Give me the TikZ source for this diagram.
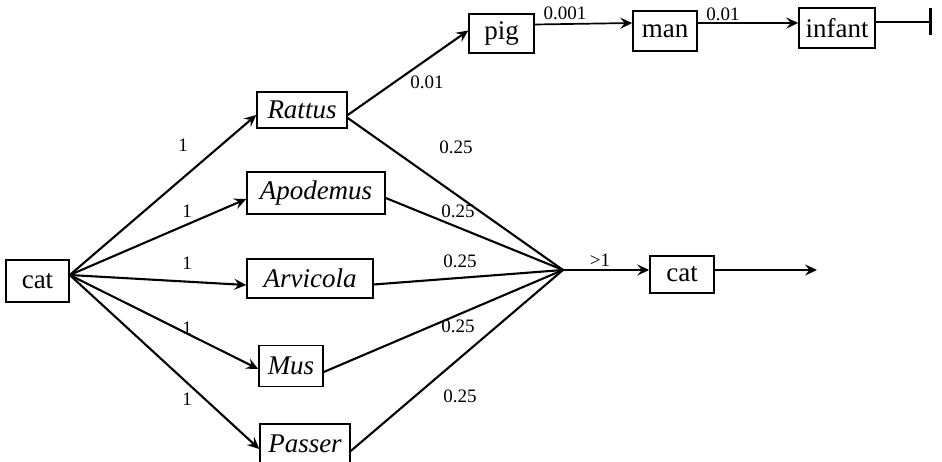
\documentclass[tikz,border=0pt]{standalone}
\usepackage{fontspec}
\setmainfont{Liberation Serif}
\usetikzlibrary{arrows.meta}
\begin{document}
\begin{tikzpicture}[x=1pt,y=-1pt,
  box/.style={draw, line width=1.5pt, inner sep=0pt, font=\fontsize{27}{29}\selectfont},
  lab/.style={font=\fontsize{19}{21}\selectfont, inner sep=0pt},
  edge/.style={line width=2.1pt},
  thin/.style={line width=1.7pt},
  arr/.style={-{Stealth[length=12pt,width=11pt,inset=4.5pt]}},
]
\useasboundingbox (0,0) rectangle (942,462);
% nodes
\node[box, minimum width=63pt, minimum height=42pt] (catL) at (37.5,281) {cat};
\node[box, minimum width=90pt, minimum height=36pt] (rattus) at (302,110) {\itshape Rattus};
\node[box, minimum width=138pt, minimum height=42pt] (apodemus) at (316,193) {\itshape Apodemus};
\node[box, minimum width=126pt, minimum height=39pt] (arvicola) at (310,278.5) {\itshape Arvicola};
\node[box, minimum width=64pt, minimum height=41pt] (mus) at (291,366) {\itshape Mus};
\node[box, minimum width=90pt, minimum height=40pt] (passer) at (305,444) {\itshape Passer};
\node[box, minimum width=65pt, minimum height=39pt] (pig) at (501.5,33.5) {pig};
\node[box, minimum width=64pt, minimum height=40pt] (man) at (665,31) {man};
\node[box, minimum width=76pt, minimum height=40pt] (infant) at (837,28) {infant};
\node[box, minimum width=64pt, minimum height=37pt] (catR) at (682,274.5) {cat};
\coordinate (j) at (563,270);
\coordinate (out) at (817,270);
\coordinate (stop) at (932,22);
% edges from cat
\draw[edge,arr] ([yshift=6pt]catL.east) -- ([yshift=-5pt]rattus.west);
\draw[edge,arr] ([yshift=6pt]catL.east) -- ([yshift=-6pt]apodemus.west);
\draw[edge,arr] ([yshift=6pt]catL.east) -- ([yshift=-6.5pt]arvicola.west);
\draw[edge,arr] ([yshift=6pt]catL.east) -- ([yshift=-3pt]mus.west);
\draw[edge,arr] ([yshift=6pt]catL.east) -- ([yshift=-5pt]passer.west);
% edges into junction
\draw[edge] ([yshift=-8pt]rattus.east) -- (j);
\draw[edge] ([yshift=-5pt]apodemus.east) -- (j);
\draw[edge] ([yshift=-6pt]arvicola.east) -- (j);
\draw[edge] ([yshift=-6pt]mus.east) -- (j);
\draw[edge] ([yshift=-7pt]passer.east) -- (j);
\draw[edge,arr] ([yshift=-5pt]rattus.east) -- ([yshift=3pt]pig.west);
% right chain
\draw[thin,arr] (j) -- (catR.west |- j);
\draw[thin,arr] (catR.east |- out) -- (out);
\draw[thin,arr] ([yshift=9pt]pig.east) -- ([yshift=8pt]man.west);
\draw[thin,arr] ([yshift=8pt]man.east) -- ([yshift=5pt]infant.west);
\draw[thin,-{Bar[width=27pt,line width=2.6pt]}] ([yshift=6pt]infant.east) -- (stop);
% labels
\node[lab] (l1) at (183,145) {1};
\node[lab] (l2) at (187,211) {1};
\node[lab] (l3) at (187,263) {1};
\node[lab] (l4) at (187,328) {1};
\node[lab] (l5) at (187,399) {1};
\node[lab] (m1) at (456,147) {0.25};
\node[lab] (m2) at (458,211) {0.25};
\node[lab] (m3) at (460,261) {0.25};
\node[lab] (m4) at (458,326) {0.25};
\node[lab] (m5) at (460,396) {0.25};
\node[lab] (lp) at (427,82) {0.01};
\node[lab] (lpm) at (565,13) {0.001};
\node[lab] (lmi) at (723,14) {0.01};
\node[lab] (lj) at (600,260) {>1};
\end{tikzpicture}
\end{document}
